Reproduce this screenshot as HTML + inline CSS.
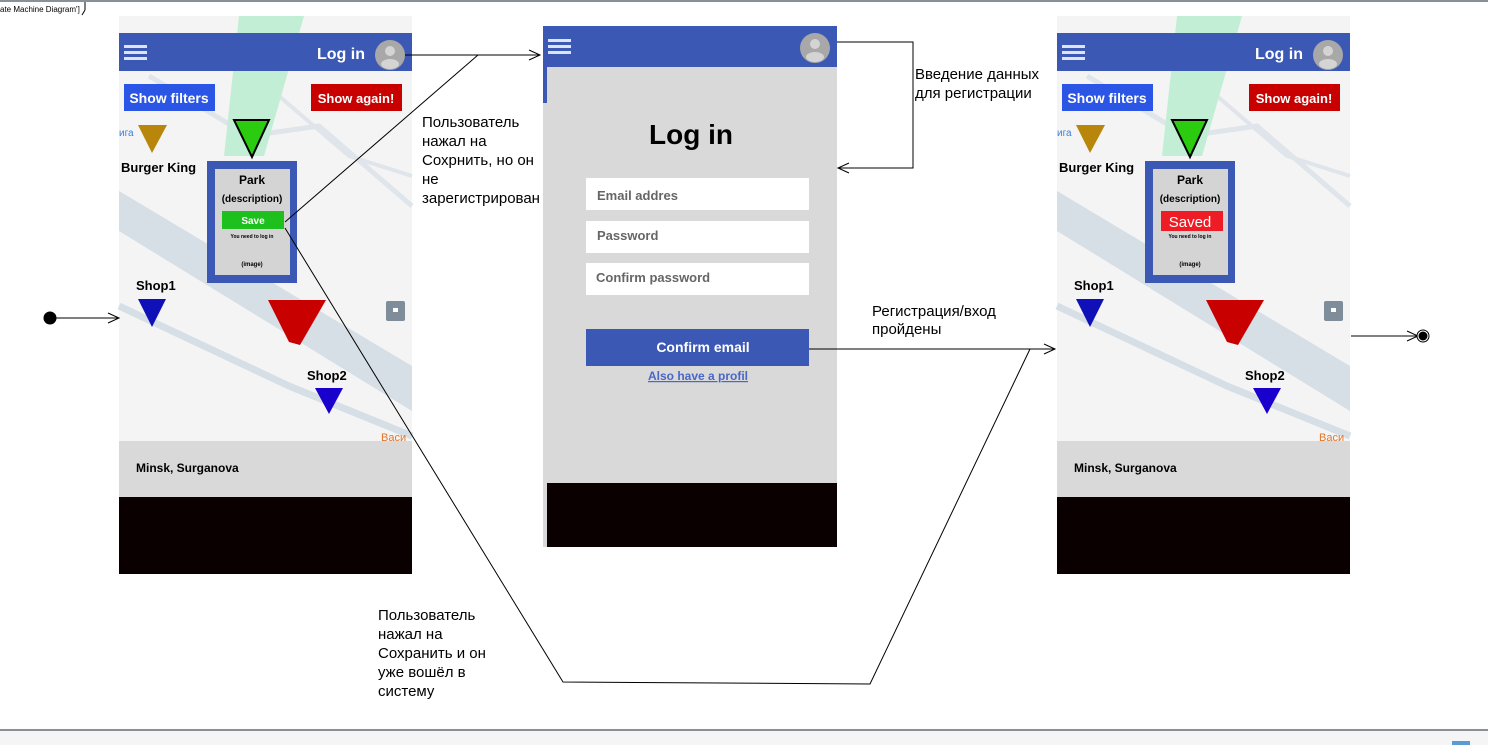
<!DOCTYPE html>
<html><head><meta charset="utf-8"><style>
html,body{margin:0;padding:0;background:#fff;}
svg{display:block;font-family:"Liberation Sans",sans-serif;}
.b{font-weight:bold;}
</style></head><body>
<svg width="1488" height="745" viewBox="0 0 1488 745" xmlns="http://www.w3.org/2000/svg">
<defs>
<g id="phone">
  <rect x="0" y="0" width="293" height="425" fill="#f4f4f4"/>
  <polygon points="0,175 0,215 293,395 293,350" fill="#d6dee6"/>
  <polyline points="0,290 170,370 293,420" fill="none" stroke="#d6dee6" stroke-width="7"/>
  <polyline points="30,60 130,120 200,110 293,190" fill="none" stroke="#dfe5ea" stroke-width="5"/>
  <polyline points="170,0 160,80 230,140 293,160" fill="none" stroke="#dfe5ea" stroke-width="4"/>
  <polygon points="120,0 185,0 145,140 105,140" fill="#c2eed6"/>
  <rect x="0" y="17" width="293" height="38" fill="#3c58b5"/>
  <rect x="5" y="29" width="23" height="3" fill="#dfe3ef"/>
  <rect x="5" y="35" width="23" height="3" fill="#dfe3ef"/>
  <rect x="5" y="41" width="23" height="3" fill="#dfe3ef"/>
  <text x="198" y="43" fill="#fff" font-size="16" class="b">Log in</text>
  <circle cx="271" cy="39" r="15" fill="#a8a8a8"/>
  <circle cx="271" cy="35" r="5" fill="#d4d4d4"/>
  <ellipse cx="271" cy="48" rx="9" ry="5" fill="#d4d4d4"/>
  <rect x="5" y="68" width="91" height="27" fill="#2a55e5"/>
  <text x="50" y="87" fill="#fff" font-size="14" class="b" text-anchor="middle">Show filters</text>
  <rect x="192" y="68" width="91" height="27" fill="#c80000"/>
  <text x="237" y="87" fill="#fff" font-size="13" class="b" text-anchor="middle">Show again!</text>
  <text x="0" y="120" fill="#3a7fd9" font-size="10">ига</text>
  <polygon points="19,109 48,109 33,137" fill="#b8860b"/>
  <text x="2" y="156" font-size="13" class="b">Burger King</text>
  <polygon points="115,104 150,104 133,141" fill="#2bcc10" stroke="#000" stroke-width="2"/>
  <rect x="88" y="145" width="90" height="122" fill="#3c58b5"/>
  <rect x="96" y="153" width="75" height="106" fill="#d4d4d4"/>
  <text x="133" y="168" font-size="12" class="b" text-anchor="middle">Park</text>
  <text x="133" y="186" font-size="10" class="b" text-anchor="middle">(description)</text>
  <text x="133" y="222" font-size="5" class="b" text-anchor="middle">You need to log in</text>
  <text x="133" y="250" font-size="6" class="b" text-anchor="middle">(image)</text>
  <text x="17" y="274" font-size="13" class="b">Shop1</text>
  <polygon points="19,283 47,283 33,311" fill="#1010b8"/>
  <polygon points="149,284 207,284 181,329 170,326" fill="#c80000"/>
  <rect x="267" y="285" width="19" height="20" rx="2" fill="#7f8c99"/>
  <rect x="274" y="292" width="5" height="4" fill="#fff"/>
  <text x="188" y="364" font-size="13" class="b">Shop2</text>
  <polygon points="196,372 224,372 210,398" fill="#1a00cc"/>
  <text x="262" y="425" fill="#e0762a" font-size="11">Васи</text>
  <rect x="0" y="425" width="293" height="56" fill="#d9d9d9"/>
  <text x="17" y="456" font-size="12" class="b">Minsk, Surganova</text>
  <rect x="0" y="481" width="293" height="77" fill="#0a0000"/>
</g>
</defs>
<rect x="0" y="0" width="1488" height="2" fill="#8a9096"/>
<text x="0" y="12" font-size="8">ate Machine Diagram']</text>
<line x1="85" y1="2" x2="85" y2="10" stroke="#000"/>
<line x1="85" y1="10" x2="82" y2="15" stroke="#000"/>
<rect x="0" y="730" width="1488" height="15" fill="#f5f5f5"/>
<rect x="0" y="729" width="1488" height="2" fill="#8a9096"/>
<rect x="1452" y="741" width="18" height="4" fill="#5b9bd5"/>

<use href="#phone" x="119" y="16"/>
<use href="#phone" x="1057" y="16"/>
<!-- left save -->
<rect x="222" y="211" width="62" height="18" fill="#1ec01e"/>
<text x="253" y="224" fill="#fff" font-size="10" class="b" text-anchor="middle">Save</text>
<!-- right saved -->
<rect x="1161" y="211" width="62" height="20" fill="#ee1c25"/>
<text x="1190" y="227" fill="#fff" font-size="15" text-anchor="middle">Saved</text>

<!-- middle phone -->
<rect x="543" y="26" width="294" height="521" fill="#d9d9d9"/>
<rect x="543" y="26" width="294" height="41" fill="#3c58b5"/>
<rect x="543" y="67" width="4" height="36" fill="#3c58b5"/>
<rect x="548" y="39" width="23" height="3" fill="#dfe3ef"/>
<rect x="548" y="45" width="23" height="3" fill="#dfe3ef"/>
<rect x="548" y="51" width="23" height="3" fill="#dfe3ef"/>
<circle cx="815" cy="48" r="15" fill="#a8a8a8"/>
<circle cx="815" cy="44" r="5" fill="#d4d4d4"/>
<ellipse cx="815" cy="57" rx="9" ry="5" fill="#d4d4d4"/>
<text x="691" y="144" font-size="28" class="b" text-anchor="middle">Log in</text>
<rect x="586" y="178" width="223" height="32" fill="#fff"/>
<text x="597" y="200" font-size="13" fill="#666" class="b">Email addres</text>
<rect x="586" y="221" width="223" height="32" fill="#fff"/>
<text x="597" y="240" font-size="13" fill="#666" class="b">Password</text>
<rect x="586" y="263" width="223" height="32" fill="#fff"/>
<text x="596" y="282" font-size="13" fill="#666" class="b">Confirm password</text>
<rect x="586" y="329" width="223" height="37" fill="#3c58b5"/>
<text x="703" y="352" font-size="14" fill="#fff" class="b" text-anchor="middle">Confirm email</text>
<text x="698" y="380" font-size="12" fill="#4a66c9" class="b" text-anchor="middle" text-decoration="underline">Also have a profil</text>
<rect x="547" y="483" width="290" height="64" fill="#0a0000"/>

<!-- connectors -->
<g stroke="#000" stroke-width="1" fill="none">
  <circle cx="50" cy="318" r="6" fill="#000"/>
  <line x1="56" y1="318" x2="119" y2="318"/>
  <polyline points="108,313 119,318 108,323"/>
  <line x1="405" y1="55" x2="540" y2="55"/>
  <polyline points="529,50 540,55 529,60"/>
  <line x1="285" y1="222" x2="478" y2="55"/>
  <polyline points="285,228 563,682 870,684 1030,349"/>
  <line x1="809" y1="349" x2="1055" y2="349"/>
  <polyline points="1044,344 1055,349 1044,354"/>
  <polyline points="837,42 913,42 913,168 838,168"/>
  <polyline points="849,163 838,168 849,173"/>
  <line x1="1351" y1="336" x2="1418" y2="336"/>
  <polyline points="1407,331 1418,336 1407,341"/>
  <circle cx="1423" cy="336" r="6" fill="#fff"/>
  <circle cx="1423" cy="336" r="4" fill="#000"/>
</g>

<g font-size="15" fill="#000">
  <text x="422" y="127">Пользователь</text>
  <text x="422" y="146">нажал на</text>
  <text x="422" y="165">Сохрнить, но он</text>
  <text x="422" y="184">не</text>
  <text x="422" y="203">зарегистрирован</text>
  <text x="915" y="79">Введение данных</text>
  <text x="915" y="98">для регистрации</text>
  <text x="872" y="316">Регистрация/вход</text>
  <text x="872" y="334">пройдены</text>
  <text x="378" y="620">Пользователь</text>
  <text x="378" y="639">нажал на</text>
  <text x="378" y="658">Сохранить и он</text>
  <text x="378" y="677">уже вошёл в</text>
  <text x="378" y="696">систему</text>
</g>
</svg>
</body></html>
